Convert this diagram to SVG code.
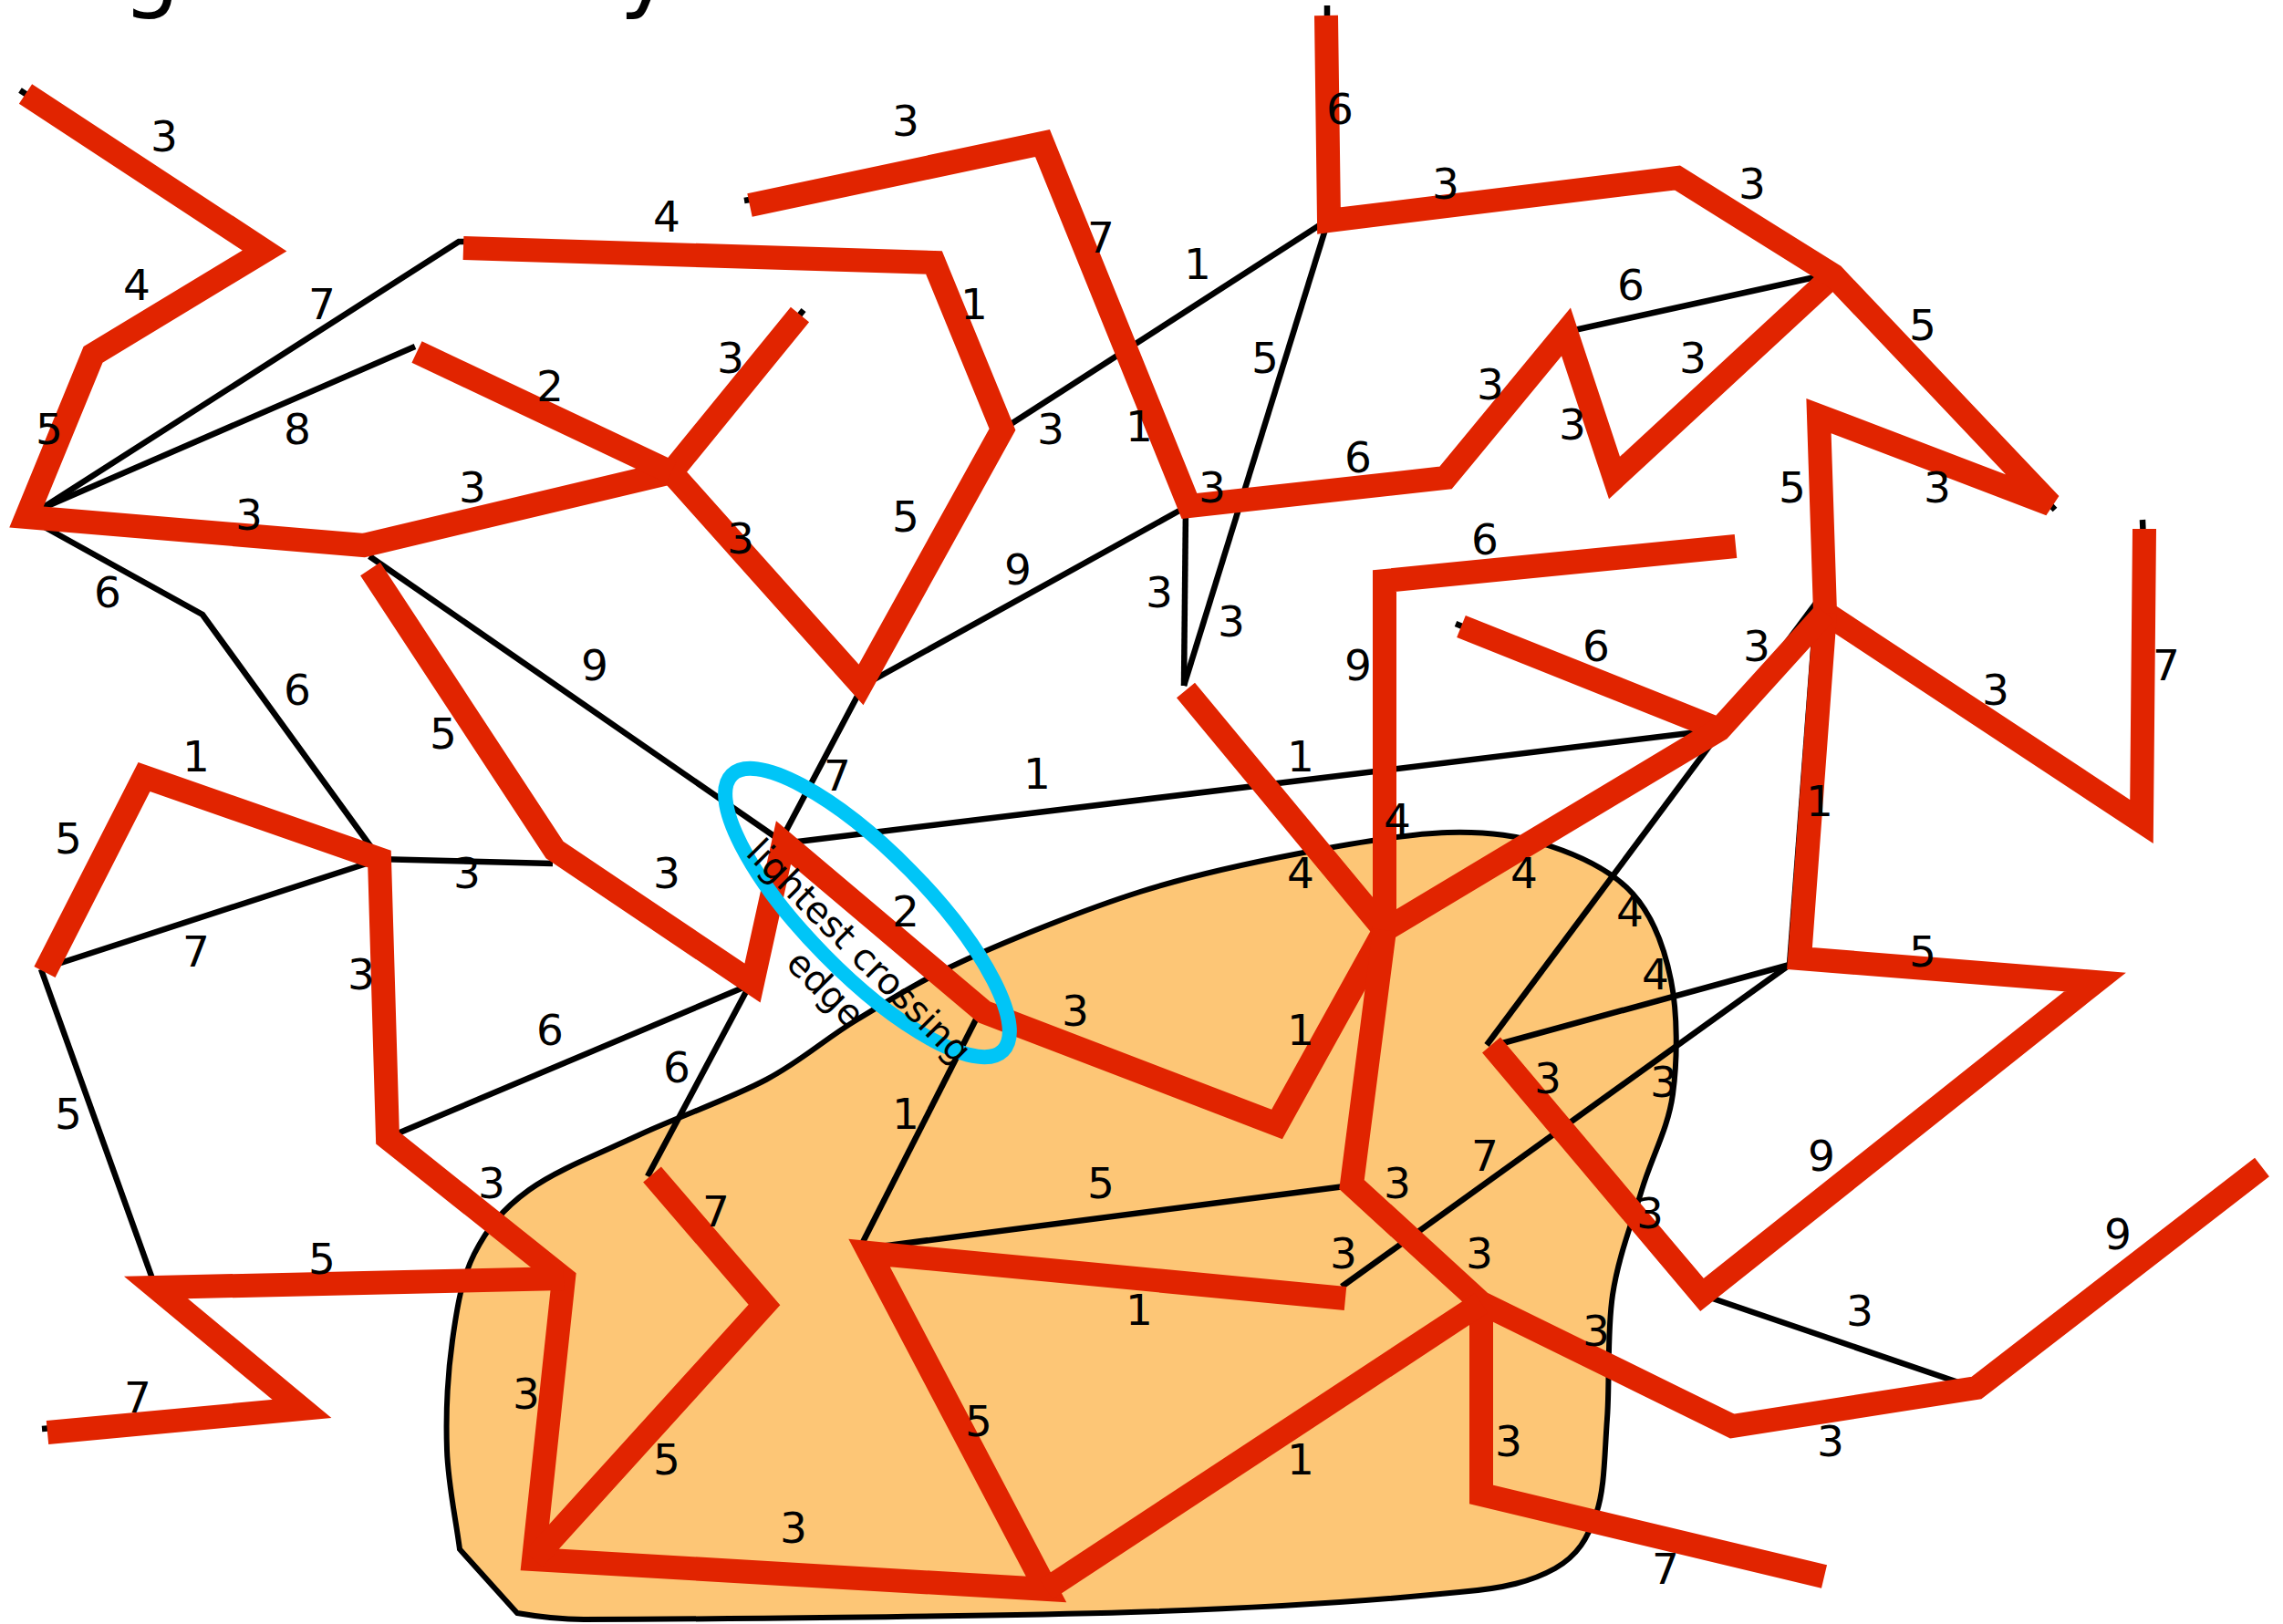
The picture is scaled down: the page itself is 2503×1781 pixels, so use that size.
<svg xmlns="http://www.w3.org/2000/svg" width="2503" height="1781" viewBox="0 0 2503 1781">
<style>
.blk{fill:none;stroke:#000;stroke-width:6.5;stroke-linejoin:miter}
.red{fill:none;stroke:#E12400;stroke-width:26;stroke-linecap:butt;stroke-linejoin:miter}
.lbl text{font-family:"DejaVu Sans","Liberation Sans",sans-serif;font-size:47px;fill:#000;text-anchor:middle}
.ttl{font-family:"DejaVu Sans","Liberation Sans",sans-serif;font-size:100px;fill:#000}
</style>
<rect width="2503" height="1781" fill="#fff"/>
<g id="title">
<text class="ttl" x="134" y="0">g</text>
<text class="ttl" x="679" y="0">y</text>
</g>
<g id="cut-region">
<path d="M504,1699 C499.3,1662.7 491.3,1628.2 490,1590 C488.7,1551.8 491,1505.8 496,1470 C501,1434.2 506,1402.5 520,1375 C534,1347.5 550,1326.7 580,1305 C610,1283.3 656.7,1265.2 700,1245 C743.3,1224.8 800,1205.2 840,1184 C880,1162.8 903.3,1140 940,1118 C976.7,1096 1008.3,1075.3 1060,1052 C1111.7,1028.7 1189.3,997.3 1250,978 C1310.7,958.7 1367.8,946.8 1424,936 C1480.2,925.2 1541,914.3 1587,913 C1633,911.7 1666.2,916.8 1700,928 C1733.8,939.2 1768,955.5 1790,980 C1812,1004.5 1824.7,1038.3 1832,1075 C1839.3,1111.7 1839.3,1161.7 1834,1200 C1828.7,1238.3 1811,1268.3 1800,1305 C1789,1341.7 1774.3,1378.2 1768,1420 C1761.7,1461.8 1765,1516 1762,1556 C1759,1596 1759.5,1632.7 1750,1660 C1740.5,1687.3 1730,1705.7 1705,1720 C1680,1734 1650,1742 1600,1746 C1522.5,1754 1400,1763 1240,1768 C1080,1773 752,1775.8 640,1776 C615,1776 590,1773 567,1769 Z" fill="#FDC676" stroke="#000" stroke-width="6"/>
</g>
<g id="edges">
<polyline class="blk" points="45,558 503,265 515,265"/>
<line class="blk" x1="45" y1="558" x2="455" y2="380"/>
<polyline class="blk" points="38,572 222,674 412,936"/>
<line class="blk" x1="45" y1="1063" x2="405" y2="946"/>
<line class="blk" x1="412" y1="942" x2="606" y2="947"/>
<line class="blk" x1="45" y1="1063" x2="168" y2="1405"/>
<line class="blk" x1="405" y1="610" x2="856" y2="922"/>
<line class="blk" x1="436" y1="1243" x2="822" y2="1080"/>
<line class="blk" x1="710" y1="1290" x2="822" y2="1080"/>
<line class="blk" x1="946" y1="752" x2="856" y2="922"/>
<line class="blk" x1="858" y1="925" x2="1885" y2="800"/>
<line class="blk" x1="946" y1="752" x2="1302" y2="555"/>
<line class="blk" x1="1099" y1="471" x2="1456" y2="241"/>
<line class="blk" x1="1456" y1="242" x2="1298" y2="752"/>
<line class="blk" x1="1300" y1="556" x2="1298" y2="752"/>
<line class="blk" x1="1717" y1="364" x2="2008" y2="300"/>
<line class="blk" x1="1630" y1="1146" x2="1992" y2="660"/>
<line class="blk" x1="1992" y1="660" x2="1962" y2="1058"/>
<line class="blk" x1="1640" y1="1146" x2="1962" y2="1058"/>
<line class="blk" x1="1471" y1="1411" x2="1962" y2="1058"/>
<line class="blk" x1="1866" y1="1420" x2="2150" y2="1517"/>
<line class="blk" x1="1073" y1="1112" x2="942" y2="1370"/>
<line class="blk" x1="942" y1="1370" x2="1482" y2="1300"/>
<line class="blk" x1="942" y1="1370" x2="1145" y2="1740"/>
<line class="blk" x1="1628" y1="1422" x2="1895" y2="1556"/>
<line class="blk" x1="22" y1="99" x2="45" y2="114"/>
<line class="blk" x1="816" y1="220" x2="840" y2="216"/>
<line class="blk" x1="881" y1="340" x2="865" y2="360"/>
<line class="blk" x1="1455" y1="6" x2="1455" y2="30"/>
<line class="blk" x1="2236" y1="541" x2="2253" y2="559"/>
<line class="blk" x1="2349" y1="570" x2="2350" y2="595"/>
<line class="blk" x1="1596" y1="684" x2="1620" y2="694"/>
<line class="blk" x1="46" y1="1567" x2="70" y2="1565"/>
</g>
<g id="tree">
<polyline class="red" points="28,103 290,275 102,389 29,567 399,598 736,518"/>
<polyline class="red" points="508,272 1024,288 1099,471 944,751 736,518 877,345"/>
<polyline class="red" points="457,386 736,518"/>
<polyline class="red" points="822,225 1143,157 1304,555 1585,524 1717,364 1770,524 2010,302"/>
<polyline class="red" points="1454,17 1457,242 1839,195 2010,302 2248,553 1994,456 2001,672 2348,901 2351,580"/>
<polyline class="red" points="1602,687 1885,800"/>
<polyline class="red" points="2001,672 1973,1051 2297,1077 1866,1420 1635,1146"/>
<polyline class="red" points="1300,757 1518,1020 1885,800 2001,672"/>
<polyline class="red" points="1903,599 1518,637 1518,1020 1400,1233 1079,1110 859,924 825,1078 608,932 406,624"/>
<polyline class="red" points="1518,1020 1482,1299 1624,1429 1899,1564 2167,1522 2480,1280"/>
<polyline class="red" points="1624,1429 1624,1639 2000,1729"/>
<polyline class="red" points="1475,1424 953,1374 1147,1743 585,1710 618,1402 425,1248 416,942 158,852 49,1066"/>
<polyline class="red" points="1624,1429 1147,1743"/>
<polyline class="red" points="618,1402 171,1412 331,1545 52,1571"/>
<polyline class="red" points="585,1710 838,1431 715,1288"/>
</g>
<g id="weights" class="lbl">
<text x="180" y="166">3</text><text x="150" y="329">4</text><text x="353" y="350">7</text><text x="54" y="487">5</text>
<text x="326" y="487">8</text><text x="603" y="440">2</text><text x="518" y="551">3</text><text x="273" y="581">3</text>
<text x="993" y="149">3</text><text x="731" y="254">4</text><text x="1207" y="277">7</text><text x="1068" y="350">1</text>
<text x="801" y="409">3</text><text x="1152" y="487">3</text><text x="1249" y="484">1</text><text x="993" y="583">5</text>
<text x="812" y="607">3</text><text x="1469" y="136">6</text><text x="1585" y="218">3</text><text x="1313" y="306">1</text>
<text x="1788" y="329">6</text><text x="1387" y="409">5</text><text x="1634" y="438">3</text><text x="1856" y="409">3</text>
<text x="1724" y="482">3</text><text x="1489" y="518">6</text><text x="1329" y="551">3</text><text x="1628" y="608">6</text>
<text x="1921" y="218">3</text><text x="2108" y="373">5</text><text x="1965" y="551">5</text><text x="2124" y="551">3</text>
<text x="118" y="666">6</text><text x="326" y="773">6</text><text x="486" y="821">5</text><text x="215" y="846">1</text>
<text x="75" y="936">5</text><text x="512" y="974">3</text><text x="215" y="1060">7</text><text x="396" y="1085">3</text>
<text x="603" y="1146">6</text><text x="652" y="746">9</text><text x="1116" y="641">9</text><text x="918" y="867">7</text>
<text x="1137" y="865">1</text><text x="731" y="974">3</text><text x="993" y="1016">2</text><text x="1179" y="1125">3</text>
<text x="742" y="1187">6</text><text x="1271" y="666">3</text><text x="1350" y="698">3</text><text x="1489" y="746">9</text>
<text x="1750" y="725">6</text><text x="1426" y="846">1</text><text x="1532" y="915">4</text><text x="1426" y="974">4</text>
<text x="1671" y="974">4</text><text x="1787" y="1016">4</text><text x="1815" y="1085">4</text><text x="1426" y="1146">1</text>
<text x="1697" y="1199">3</text><text x="1926" y="725">3</text><text x="2188" y="773">3</text><text x="2375" y="746">7</text>
<text x="1995" y="895">1</text><text x="2108" y="1060">5</text><text x="75" y="1238">5</text><text x="539" y="1314">3</text>
<text x="353" y="1397">5</text><text x="577" y="1545">3</text><text x="151" y="1549">7</text><text x="993" y="1238">1</text>
<text x="1207" y="1314">5</text><text x="785" y="1345">7</text><text x="1249" y="1453">1</text><text x="1073" y="1575">5</text>
<text x="731" y="1617">5</text><text x="870" y="1692">3</text><text x="1824" y="1203">3</text><text x="1628" y="1284">7</text>
<text x="1532" y="1314">3</text><text x="1809" y="1347">3</text><text x="1473" y="1391">3</text><text x="1622" y="1391">3</text>
<text x="1750" y="1476">3</text><text x="1654" y="1597">3</text><text x="1426" y="1617">1</text><text x="1826" y="1737">7</text>
<text x="1997" y="1284">9</text><text x="2322" y="1370">9</text><text x="2039" y="1454">3</text><text x="2007" y="1597">3</text>
</g>
<g id="lightest-crossing-edge">
<ellipse cx="951" cy="1001" rx="212" ry="66" transform="rotate(45.5 951 1001)" fill="none" stroke="#00C5F7" stroke-width="16"/>
<text transform="translate(940,1045) rotate(45)" font-family="DejaVu Sans, Liberation Sans, sans-serif" font-size="40" text-anchor="middle" fill="#000"><tspan x="0" y="11">lightest crossing</tspan><tspan x="3" y="66">edge</tspan></text>
</g>
</svg>
